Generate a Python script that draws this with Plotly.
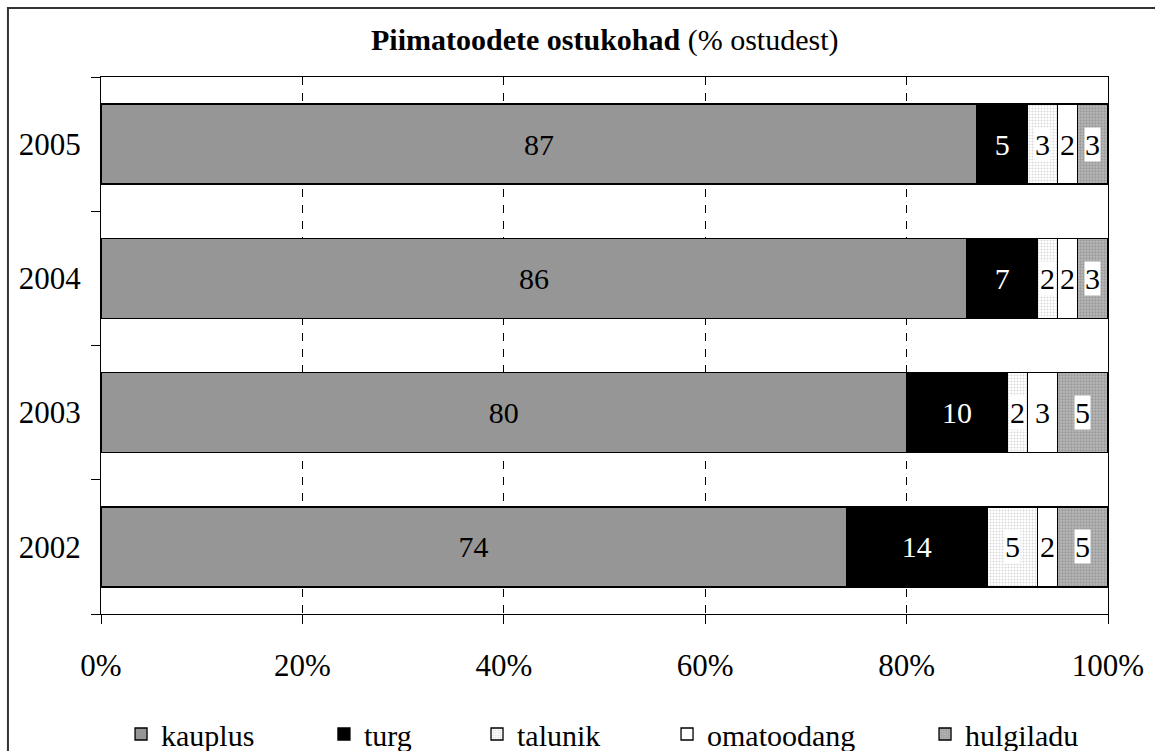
import plotly.graph_objects as go

years = ["2002", "2003", "2004", "2005"]
series_names = ["kauplus", "turg", "talunik", "omatoodang", "hulgiladu"]
kauplus = [74, 80, 86, 87]
turg = [14, 10, 7, 5]
talunik = [5, 2, 2, 3]
omatoodang = [2, 3, 2, 2]
hulgiladu = [5, 5, 3, 3]
x_ticks = [0, 20, 40, 60, 80, 100]
x_tick_labels = ["0%", "20%", "40%", "60%", "80%", "100%"]

values = [kauplus, turg, talunik, omatoodang, hulgiladu]
FONT = "Liberation Serif"

styles = [
    dict(color="#969696"),
    dict(color="#000000"),
    dict(color="#ffffff", pattern=dict(shape=".", fgcolor="#b4b4b4", bgcolor="#ffffff", size=3, solidity=0.35)),
    dict(color="#ffffff"),
    dict(color="#a8a8a8", pattern=dict(shape=".", fgcolor="#7a7a7a", bgcolor="#b8b8b8", size=3, solidity=0.45)),
]
text_colors = ["#000000", "#ffffff", "#000000", "#000000", "#000000"]
legend_ids = ["legend", "legend2", "legend3", "legend4", "legend5"]
legend_x = [0.0199, 0.2214, 0.3734, 0.5621, 0.8183]

fig = go.Figure()
for i, (name, vals) in enumerate(zip(series_names, values)):
    marker = dict(styles[i])
    marker["line"] = dict(color="#000000", width=1.3)
    inside = i < 2
    fig.add_trace(go.Bar(
        name=name, y=years, x=vals, orientation="h",
        marker=marker,
        text=[str(v) for v in vals] if inside else None,
        textposition="inside" if inside else "none",
        insidetextanchor="middle",
        textangle=0,
        insidetextfont=dict(family=FONT, size=30, color=text_colors[i]),
        hoverinfo="x+y+name",
        legend=legend_ids[i],
    ))

# labels with white background for the narrow segments
annotations = []
for yi, yr in enumerate(years):
    cum = 0
    for si, vals in enumerate(values):
        v = vals[yi]
        mid = cum + v / 2
        cum += v
        if si >= 2:
            annotations.append(dict(
                x=mid, y=yi, xref="x", yref="y", text=str(v), showarrow=False,
                font=dict(family=FONT, size=30, color="#000000"),
                bgcolor="#ffffff", borderpad=0, xanchor="center", yanchor="middle",
            ))

annotations.append(dict(
    x=0.5, y=1.0 + 37 / 537, xref="paper", yref="paper", showarrow=False,
    text="<b>Piimatoodete ostukohad</b> (% ostudest)",
    font=dict(family=FONT, size=30, color="#000000"),
    xanchor="center", yanchor="middle",
))

legend_common = dict(
    orientation="h", y=-0.2235, xanchor="left", yanchor="middle",
    font=dict(family=FONT, size=30, color="#000000"),
    itemclick=False, bgcolor="rgba(0,0,0,0)",
)
layout_legends = {}
for lid, lx in zip(legend_ids, legend_x):
    layout_legends[lid] = dict(legend_common, x=lx)

fig.update_layout(
    width=1155, height=751,
    margin=dict(l=101, r=47, t=77, b=137, autoexpand=False),
    barmode="stack", bargap=0.404,
    paper_bgcolor="#ffffff", plot_bgcolor="#ffffff",
    font=dict(family=FONT, size=30, color="#000000"),
    showlegend=True,
    annotations=annotations,
    shapes=[dict(type="rect", xref="paper", yref="paper",
                 x0=-0.0924, x1=1.06, y0=-0.3, y1=1.1285,
                 line=dict(color="#333333", width=2), fillcolor="rgba(0,0,0,0)", layer="below")],
    **layout_legends,
)
fig.update_xaxes(
    range=[0, 100], tickvals=x_ticks, ticktext=x_tick_labels,
    showgrid=True, gridcolor="#000000", gridwidth=1, griddash="8px,8px",
    showline=True, linecolor="#000000", linewidth=1.3, mirror=True,
    ticks="outside", ticklen=9, tickcolor="#000000", tickwidth=1,
    ticklabelstandoff=15, zeroline=False, fixedrange=True, automargin=False,
    tickfont=dict(family=FONT, size=31),
)
fig.update_yaxes(
    type="category", categoryorder="array", categoryarray=years,
    range=[-0.5, 3.5],
    showline=True, linecolor="#000000", linewidth=1.3, mirror=True,
    ticks="outside", ticklen=9, tickcolor="#000000", tickwidth=1, tickson="boundaries",
    ticklabelstandoff=13, showgrid=False, fixedrange=True, automargin=False,
    tickfont=dict(family=FONT, size=31),
)

fig.write_html("out.html", post_script="document.body.style.margin='0';",
               config={"displayModeBar": False})
